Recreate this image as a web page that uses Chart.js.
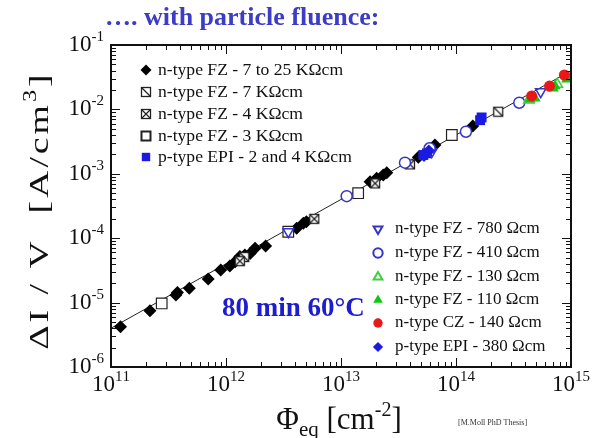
<!DOCTYPE html>
<html>
<head>
<meta charset="utf-8">
<script src="https://cdn.jsdelivr.net/npm/chart.js@4.4.1/dist/chart.umd.min.js"></script>
<style>
  html, body { margin: 0; padding: 0; background: #fff; }
  #wrap { width: 599px; height: 438px; }
</style>
</head>
<body>
<div id="wrap"><canvas id="chart" width="599" height="438"></canvas></div>
<script>
// data (fluence in cm^-2, dI/V in A/cm^3)
const fz25kPhi = [1.21e11, 2.18e11, 3.67e11, 3.78e11, 4.8e11, 7.0e11, 9.0e11, 1.08e12, 1.2e12, 1.32e12, 1.46e12, 1.62e12, 1.79e12, 2.21e12, 4.12e12, 4.7e12, 5.0e12, 1.79e13, 2.04e13, 2.33e13, 2.5e13, 4.7e13, 6.56e13, 1.4e14];
const fz25kI   = [4.2e-6, 7.5e-6, 1.31e-5, 1.43e-5, 1.67e-5, 2.32e-5, 3.2e-5, 3.7e-5, 4.3e-5, 5.2e-5, 5.5e-5, 5.8e-5, 7.0e-5, 7.6e-5, 1.43e-4, 1.7e-4, 1.8e-4, 7.5e-4, 8.5e-4, 9.6e-4, 1.04e-3, 1.8e-3, 2.8e-3, 5.5e-3];
const fz7kPhi = [1.44e12, 2.33e14];
const fz7kI   = [5.1e-5, 9.2e-3];
const fz4kPhi = [1.32e12, 5.86e12, 1.98e13, 3.98e13];
const fz4kI   = [4.4e-5, 2.0e-4, 7.1e-4, 1.4e-3];
const fz3kPhi = [2.76e11, 3.48e12, 1.41e13, 9.2e13];
const fz3kI   = [9.7e-6, 1.26e-4, 5.0e-4, 4.0e-3];
const epi24kPhi = [5.2e13, 5.6e13, 1.62e14, 1.67e14];
const epi24kI   = [1.96e-3, 2.08e-3, 6.8e-3, 7.5e-3];
const fz780Phi = [3.48e12, 6.15e13, 5.45e14];
const fz780I   = [1.26e-4, 2.2e-3, 1.88e-2];
const fz410Phi = [1.12e13, 3.6e13, 5.9e13, 1.22e14, 3.55e14];
const fz410I   = [4.5e-4, 1.49e-3, 2.49e-3, 4.5e-3, 1.27e-2];
const fz130Phi = [4.3e14, 7.6e14];
const fz130I   = [1.4e-2, 2.45e-2];
const fz110Phi = [4.4e14, 4.86e14, 7.0e14, 7.26e14, 9.2e14, 9.8e14];
const fz110I   = [1.44e-2, 1.49e-2, 2.13e-2, 2.3e-2, 2.93e-2, 3.04e-2];
const cz140Phi = [4.55e14, 6.5e14, 8.75e14];
const cz140I   = [1.62e-2, 2.3e-2, 3.42e-2];
const epi380Phi = [5.27e13, 5.8e13];
const epi380I   = [1.89e-3, 2.3e-3];
const fitPhi = [1e11, 1e15];
const fitI   = [4e-6, 4e-2];

const xTicks = [1e11, 1e12, 1e13, 1e14, 1e15];
const xTickExp = ['11', '12', '13', '14', '15'];
const yTicks = [1e-1, 1e-2, 1e-3, 1e-4, 1e-5, 1e-6];
const yTickExp = ['-1', '-2', '-3', '-4', '-5', '-6'];

const SERIF = '"Liberation Serif", "DejaVu Serif", serif';

function pts(xs, ys) { return xs.map((x, i) => ({ x: x, y: ys[i] })); }

// small marker images for the squares with a diagonal / a cross
function boxMarker(kind) {
  const c = document.createElement('canvas');
  c.width = 12; c.height = 12;
  const g = c.getContext('2d');
  g.fillStyle = '#fff';
  g.fillRect(1, 1, 10, 10);
  g.strokeStyle = '#222';
  g.lineWidth = 1.3;
  g.strokeRect(1.5, 1.5, 9, 9);
  g.beginPath();
  g.moveTo(1.5, 1.5); g.lineTo(10.5, 10.5);
  if (kind === 'x') { g.moveTo(10.5, 1.5); g.lineTo(1.5, 10.5); }
  g.stroke();
  return c;
}
const diagBox = boxMarker('d');
const crossBox = boxMarker('x');

const BLUE = '#1a1ae0';
const BLUE_OPEN = '#3434c8';

const series = [
  { label: 'n-type FZ - 7 to 25 K\u03A9cm', xs: fz25kPhi, ys: fz25kI, style: 'rectRot', r: 6.5, bg: '#000', bc: '#000', bw: 0 },
  { label: 'n-type FZ - 7 K\u03A9cm', xs: fz7kPhi, ys: fz7kI, style: diagBox, r: 5, bg: '#fff', bc: '#222', bw: 1 },
  { label: 'n-type FZ - 4 K\u03A9cm', xs: fz4kPhi, ys: fz4kI, style: crossBox, r: 5, bg: '#fff', bc: '#222', bw: 1 },
  { label: 'n-type FZ - 3 K\u03A9cm', xs: fz3kPhi, ys: fz3kI, style: 'rect', r: 7.5, bg: '#fff', bc: '#222', bw: 1.2 },
  { label: 'p-type EPI - 2 and 4 K\u03A9cm', xs: epi24kPhi, ys: epi24kI, style: 'rect', r: 7, bg: BLUE, bc: BLUE, bw: 0 },
  { label: 'n-type FZ - 780 \u03A9cm', xs: fz780Phi, ys: fz780I, style: 'triangle', rot: 180, r: 6, bg: 'rgba(255,255,255,0)', bc: BLUE_OPEN, bw: 1.5 },
  { label: 'n-type FZ - 410 \u03A9cm', xs: fz410Phi, ys: fz410I, style: 'circle', r: 5.5, bg: '#fff', bc: BLUE_OPEN, bw: 1.5 },
  { label: 'n-type FZ - 130 \u03A9cm', xs: fz130Phi, ys: fz130I, style: 'triangle', r: 6, bg: '#fff', bc: '#3ed03e', bw: 1.5 },
  { label: 'n-type FZ - 110 \u03A9cm', xs: fz110Phi, ys: fz110I, style: 'triangle', r: 6.5, bg: '#10c810', bc: '#10c810', bw: 0 },
  { label: 'n-type CZ - 140 \u03A9cm', xs: cz140Phi, ys: cz140I, style: 'circle', r: 5.5, bg: '#e81818', bc: '#e81818', bw: 0 },
  { label: 'p-type EPI - 380 \u03A9cm', xs: epi380Phi, ys: epi380I, style: 'rectRot', r: 6, bg: BLUE, bc: BLUE, bw: 0 }
];

const datasets = series.map((s, i) => ({
  type: 'scatter',
  label: s.label,
  data: pts(s.xs, s.ys),
  pointStyle: s.style,
  pointRotation: s.rot || 0,
  pointRadius: s.r,
  backgroundColor: s.bg,
  borderColor: s.bc,
  borderWidth: s.bw,
  order: series.length - i
}));
datasets.push({
  type: 'line',
  label: 'fit',
  data: pts(fitPhi, fitI),
  borderColor: '#222',
  borderWidth: 1,
  pointRadius: 0,
  order: 100
});

// text with a superscript or subscript part, optional extra letter spacing
function richText(ctx, parts, x, y, align, gap) {
  gap = gap || 0;
  const chars = [];
  parts.forEach(p => {
    ctx.font = p.font;
    Array.from(p.t).forEach(ch => chars.push({ ch: ch, font: p.font, dy: p.dy || 0, w: ctx.measureText(ch).width }));
  });
  let w = 0;
  chars.forEach(c => { w += c.w; });
  w += gap * (chars.length - 1);
  let cx = align === 'center' ? x - w / 2 : (align === 'right' ? x - w : x);
  chars.forEach(c => {
    ctx.font = c.font;
    ctx.fillText(c.ch, cx, y + c.dy);
    cx += c.w + gap;
  });
  return w;
}

const frame = {
  id: 'frame',
  afterDraw(chart) {
    const ctx = chart.ctx;
    const a = chart.chartArea;
    const xs = chart.scales.x, ys = chart.scales.y;
    ctx.save();
    ctx.strokeStyle = '#111';
    ctx.fillStyle = '#111';

    // minor and major ticks on all four sides
    ctx.lineWidth = 1;
    ctx.beginPath();
    for (let e = 11; e < 15; e++) {
      for (let m = 1; m <= 9; m++) {
        const px = Math.round(xs.getPixelForValue(m * Math.pow(10, e))) + 0.5;
        const len = m === 1 ? 9 : 5;
        ctx.moveTo(px, a.bottom); ctx.lineTo(px, a.bottom - len);
        ctx.moveTo(px, a.top); ctx.lineTo(px, a.top + len);
      }
    }
    for (let e = -6; e < -1; e++) {
      for (let m = 1; m <= 9; m++) {
        const py = Math.round(ys.getPixelForValue(m * Math.pow(10, e))) + 0.5;
        const len = m === 1 ? 9 : 5;
        ctx.moveTo(a.left, py); ctx.lineTo(a.left + len, py);
        ctx.moveTo(a.right, py); ctx.lineTo(a.right - len, py);
      }
    }
    ctx.stroke();

    ctx.lineWidth = 2;
    ctx.strokeRect(a.left, a.top, a.right - a.left, a.bottom - a.top);

    // tick labels
    ctx.textBaseline = 'middle';
    xTicks.forEach((v, i) => {
      const px = xs.getPixelForValue(v);
      richText(ctx, [
        { t: '10', font: '23px ' + SERIF },
        { t: xTickExp[i], font: '15px ' + SERIF, dy: -8 }
      ], px, a.bottom + 18, 'center');
    });
    yTicks.forEach((v, i) => {
      const py = ys.getPixelForValue(v);
      richText(ctx, [
        { t: '10', font: '23px ' + SERIF },
        { t: yTickExp[i], font: '15px ' + SERIF, dy: -8 }
      ], a.left - 7, py, 'right');
    });

    // axis titles
    ctx.textBaseline = 'alphabetic';
    richText(ctx, [
      { t: '\u03A6', font: '31px ' + SERIF },
      { t: 'eq', font: '21px ' + SERIF, dy: 7 },
      { t: ' [cm', font: '31px ' + SERIF },
      { t: '-2', font: '20px ' + SERIF, dy: -13 },
      { t: ']', font: '31px ' + SERIF }
    ], 339, 429, 'center');

    // y title, drawn a bit stretched along its length as in the original
    ctx.save();
    ctx.translate(48, 212);
    ctx.rotate(-Math.PI / 2);
    ctx.scale(1.35, 1);
    richText(ctx, [
      { t: '\u0394I / V  [A/cm', font: '28px ' + SERIF },
      { t: '3', font: '18px ' + SERIF, dy: -12 },
      { t: ']', font: '28px ' + SERIF }
    ], 0, 0, 'center', 2.2);
    ctx.restore();

    ctx.font = '8px ' + SERIF;
    ctx.fillStyle = '#333';
    ctx.textAlign = 'left';
    ctx.fillText('[M.Moll PhD Thesis]', 458, 425);

    // title and annotation
    ctx.fillStyle = '#3c3cc4';
    ctx.font = 'bold 26px ' + SERIF;
    ctx.fillText('\u2026. with particle fluence:', 105, 25);
    ctx.fillStyle = '#1c1cd0';
    ctx.font = 'bold 27px ' + SERIF;
    ctx.fillText('80 min 60\u00B0C', 222, 316);

    // legends
    const drawEntry = (s, mx, tx, y, size) => {
      ctx.fillStyle = s.bg;
      ctx.strokeStyle = s.bc;
      Chart.helpers.drawPoint(ctx, { pointStyle: s.style, radius: s.r * 0.85, rotation: s.rot || 0, borderWidth: s.bw }, mx, y);
      ctx.fillStyle = '#111';
      ctx.font = size + 'px ' + SERIF;
      ctx.textBaseline = 'middle';
      ctx.fillText(s.label, tx, y);
    };
    const rows1 = [70, 92, 114, 136, 157];
    for (let i = 0; i < 5; i++) drawEntry(series[i], 146, 158, rows1[i], 17.6);
    const rows2 = [229, 253, 277, 300, 323, 347];
    for (let i = 0; i < 6; i++) drawEntry(series[5 + i], 378, 395, rows2[i], 17);

    ctx.restore();
  }
};

new Chart(document.getElementById('chart'), {
  data: { datasets: datasets },
  options: {
    responsive: false,
    animation: false,
    layout: { padding: { left: 111, right: 28, top: 45, bottom: 71 } },
    scales: {
      x: { type: 'logarithmic', min: 1e11, max: 1e15, display: false },
      y: { type: 'logarithmic', min: 1e-6, max: 1e-1, display: false }
    },
    plugins: { legend: { display: false }, tooltip: { enabled: false } }
  },
  plugins: [frame]
});
</script>
</body>
</html>
